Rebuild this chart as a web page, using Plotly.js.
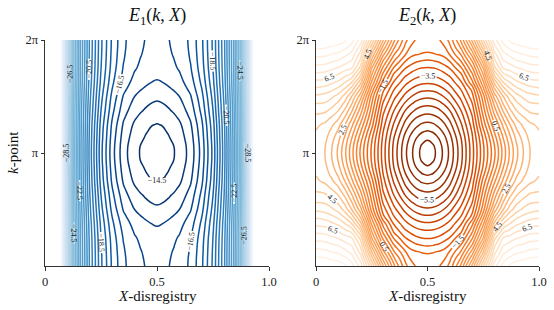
<!DOCTYPE html>
<html><head><meta charset="utf-8">
<script src="https://cdn.plot.ly/plotly-3.0.1.min.js"></script>
<style>html,body{margin:0;padding:0;background:#fff}#chart{width:554px;height:310px}</style>
</head><body><div id="chart"></div>
<script>
// ---- data: one quarter of each symmetric field ----
// X-disregistry columns 0..0.5 (field is mirrored about X = 0.5)
const xHalf = [0, 0.04, 0.07, 0.1, 0.13, 0.16, 0.2, 0.25, 0.3, 0.35, 0.4, 0.425, 0.45, 0.475, 0.5];
// k rows 0..pi in units of pi (field is mirrored about k = pi)
const kHalf = [0, 0.0625, 0.125, 0.1875, 0.25, 0.3125, 0.375, 0.4375, 0.5, 0.5625, 0.625, 0.6875, 0.75, 0.8125, 0.875, 0.9375, 1];

// E1(k, X): rows follow kHalf, columns follow xHalf
const e1Quarter = [
  [-70, -45, -33, -27.8, -24.4, -22.4, -20.4, -18.6, -17.4, -16.6, -16.2, -16.08, -15.98, -15.89, -15.85],
  [-70, -45, -33, -27.8, -24.4, -22.4, -20.39, -18.59, -17.39, -16.59, -16.18, -16.06, -15.96, -15.87, -15.83],
  [-70, -45, -33, -27.8, -24.39, -22.39, -20.38, -18.57, -17.36, -16.56, -16.15, -16.03, -15.93, -15.84, -15.8],
  [-70, -45, -33, -27.79, -24.39, -22.38, -20.36, -18.54, -17.33, -16.52, -16.11, -15.98, -15.88, -15.79, -15.75],
  [-70, -45, -33, -27.79, -24.38, -22.37, -20.34, -18.51, -17.28, -16.46, -16.05, -15.92, -15.82, -15.73, -15.69],
  [-70, -45, -33, -27.78, -24.37, -22.34, -20.3, -18.44, -17.2, -16.37, -15.94, -15.82, -15.71, -15.62, -15.58],
  [-70, -45, -32.99, -27.78, -24.35, -22.32, -20.26, -18.37, -17.11, -16.26, -15.83, -15.7, -15.59, -15.5, -15.45],
  [-70, -45, -32.99, -27.77, -24.33, -22.28, -20.19, -18.27, -16.99, -16.12, -15.67, -15.53, -15.42, -15.32, -15.28],
  [-70, -45, -32.99, -27.75, -24.31, -22.24, -20.13, -18.17, -16.85, -15.96, -15.5, -15.35, -15.24, -15.14, -15.1],
  [-70, -45, -32.98, -27.75, -24.29, -22.21, -20.07, -18.08, -16.74, -15.83, -15.35, -15.2, -15.08, -14.99, -14.94],
  [-70, -45, -32.98, -27.74, -24.27, -22.18, -20.02, -18.0, -16.64, -15.71, -15.21, -15.06, -14.94, -14.84, -14.8],
  [-70, -45, -32.98, -27.73, -24.25, -22.14, -19.96, -17.9, -16.52, -15.57, -15.06, -14.9, -14.78, -14.68, -14.64],
  [-70, -45, -32.98, -27.72, -24.23, -22.11, -19.9, -17.81, -16.4, -15.44, -14.91, -14.75, -14.63, -14.52, -14.48],
  [-70, -45, -32.97, -27.71, -24.22, -22.09, -19.87, -17.75, -16.33, -15.35, -14.82, -14.66, -14.53, -14.43, -14.38],
  [-70, -45, -32.97, -27.71, -24.21, -22.07, -19.84, -17.71, -16.27, -15.28, -14.74, -14.58, -14.45, -14.34, -14.3],
  [-70, -45, -32.97, -27.7, -24.2, -22.05, -19.81, -17.66, -16.22, -15.22, -14.67, -14.5, -14.37, -14.27, -14.22],
  [-70, -45, -32.97, -27.7, -24.2, -22.05, -19.8, -17.65, -16.2, -15.2, -14.65, -14.48, -14.35, -14.24, -14.2]
];
// E2(k, X): rows follow kHalf, columns follow xHalf
const e2Quarter = [
  [9.0, 9.0, 8.9, 8.8, 8.6, 8.2, 7.3, 5.0, 2.6, 0.6, -0.85, -1.25, -1.56, -1.7, -1.75],
  [8.62, 8.57, 8.45, 8.35, 8.15, 7.8, 6.8, 4.25, 1.9, 0.1, -1.1, -1.55, -1.72, -1.8, -1.84],
  [8.2, 8.13, 8.0, 7.9, 7.65, 7.35, 6.3, 3.5, 1.2, -0.45, -1.45, -1.84, -1.96, -2.03, -2.06],
  [7.75, 7.7, 7.55, 7.45, 7.2, 6.95, 5.85, 2.75, 0.5, -1.0, -1.98, -2.24, -2.44, -2.54, -2.58],
  [7.3, 7.25, 7.1, 6.95, 6.7, 6.5, 5.3, 2.0, -0.1, -1.6, -2.48, -2.73, -2.92, -3.02, -3.05],
  [6.82, 6.77, 6.6, 6.42, 6.1, 5.8, 4.5, 1.45, -0.65, -2.16, -2.93, -3.17, -3.34, -3.44, -3.48],
  [6.35, 6.28, 6.1, 5.88, 5.5, 5.0, 3.65, 0.9, -1.15, -2.58, -3.34, -3.59, -3.78, -3.89, -3.93],
  [5.88, 5.78, 5.6, 5.35, 4.9, 4.25, 2.9, 0.33, -1.85, -2.99, -3.74, -4.03, -4.24, -4.37, -4.41],
  [5.4, 5.3, 5.1, 4.8, 4.3, 3.5, 2.2, -0.2, -2.21, -3.34, -4.16, -4.47, -4.71, -4.85, -4.9],
  [5.0, 4.95, 4.72, 4.4, 3.85, 3.05, 1.65, -0.48, -2.53, -3.68, -4.58, -4.93, -5.17, -5.32, -5.36],
  [4.65, 4.6, 4.35, 4.0, 3.4, 2.58, 1.25, -0.75, -2.82, -4.01, -5.0, -5.34, -5.6, -5.75, -5.8],
  [4.35, 4.22, 3.95, 3.6, 2.95, 2.1, 0.82, -1.03, -3.07, -4.31, -5.36, -5.72, -6.0, -6.16, -6.22],
  [4.1, 3.9, 3.6, 3.2, 2.5, 1.65, 0.4, -1.3, -3.27, -4.59, -5.67, -6.08, -6.38, -6.58, -6.65],
  [3.97, 3.75, 3.37, 2.9, 2.15, 1.3, 0.03, -1.65, -3.47, -4.83, -5.96, -6.4, -6.72, -6.97, -7.06],
  [3.88, 3.63, 3.18, 2.64, 1.87, 0.99, -0.3, -1.93, -3.6, -5.04, -6.2, -6.66, -7.03, -7.28, -7.44],
  [3.82, 3.53, 3.05, 2.46, 1.67, 0.77, -0.52, -2.07, -3.69, -5.15, -6.34, -6.82, -7.21, -7.57, -7.75],
  [3.8, 3.5, 3.0, 2.4, 1.6, 0.7, -0.6, -2.1, -3.71, -5.18, -6.39, -6.87, -7.27, -7.67, -7.85]
];

// contour levels and which of them carry labels
const e1Levels = {start: -32.5, end: -14.5, step: 0.5};
const e2Levels = {start: -7.5, end: 9.0, step: 0.5};
const e1Labeled = [-28.5, -26.5, -24.5, -22.5, -20.5, -18.5, -16.5, -14.5];
const e2Labeled = [-7.5, -5.5, -3.5, -1.5, 0.5, 2.5, 4.5, 6.5];

const xTickVals = [0, 0.5, 1], xTickText = ['0', '0.5', '1.0'];
const kTickVals = [Math.PI, 2 * Math.PI], kTickText = ['π', '2π'];

const Blues = ['#f7fbff','#deebf7','#c6dbef','#9ecae1','#6baed6','#4292c6','#2171b5','#08519c','#08306b'];
const Oranges = ['#fff5eb','#fee6ce','#fdd0a2','#fdae6b','#fd8d3c','#f16913','#d94801','#a63603','#7f2704'];

// ---- full grids by mirroring the quarters ----
const xs = xHalf.concat(xHalf.slice(0, -1).reverse().map(v => 1 - v));
const ks = kHalf.concat(kHalf.slice(0, -1).reverse().map(v => 2 - v)).map(v => v * Math.PI);
function fullGrid(q) {
  const fr = r => r.concat(r.slice(0, -1).reverse());
  return q.map(fr).concat(q.slice(0, -1).reverse().map(fr));
}
const z1 = fullGrid(e1Quarter), z2 = fullGrid(e2Quarter);

function hex2rgb(h) { return [1, 3, 5].map(i => parseInt(h.slice(i, i + 2), 16)); }
function cmap(pal, t) {
  t = Math.max(0, Math.min(1, t));
  const p = t * (pal.length - 1), i = Math.min(Math.floor(p), pal.length - 2), f = p - i;
  const a = hex2rgb(pal[i]), b = hex2rgb(pal[i + 1]);
  return 'rgb(' + a.map((v, j) => Math.round(v + (b[j] - v) * f)).join(',') + ')';
}

const FONT = 'Liberation Serif, DejaVu Serif, serif';
const LW = 1.5, SMOOTH = 1.3;
const traces = [];
function addField(z, lv, labeled, pal, invert, xa, ya) {
  const colorOf = L => cmap(pal, invert ? 1 - (L - lv.start) / (lv.end - lv.start) : (L - lv.start) / (lv.end - lv.start));
  const n = Math.round((lv.end - lv.start) / lv.step);
  for (let i = 0; i <= n; i++) {
    const L = +(lv.start + i * lv.step).toFixed(3);
    if (labeled.some(v => Math.abs(v - L) < 1e-6)) continue;
    traces.push({
      type: 'contour', x: xs, y: ks, z: z, xaxis: xa, yaxis: ya,
      autocontour: false, showscale: false, hoverinfo: 'skip',
      contours: {start: L, end: L, size: 1, coloring: 'none', showlabels: false},
      line: {color: colorOf(L), width: LW, smoothing: SMOOTH}
    });
  }
  // labeled levels in one trace so labels avoid each other
  const lo = Math.min(...labeled), hi = Math.max(...labeled), sz = labeled[1] - labeled[0];
  traces.push({
    type: 'contour', x: xs, y: ks, z: z, xaxis: xa, yaxis: ya,
    autocontour: false, showscale: false, hoverinfo: 'skip',
    colorscale: labeled.map(L => [(L - lo) / (hi - lo), colorOf(L)]),
    contours: {start: lo, end: hi, size: sz, coloring: 'lines', showlabels: true,
               labelfont: {family: FONT, size: 8, color: '#222'}, labelformat: '.1f'},
    line: {width: LW, smoothing: SMOOTH}
  });
}
addField(z1, e1Levels, e1Labeled, Blues, false, 'x', 'y');
addField(z2, e2Levels, e2Labeled, Oranges, true, 'x2', 'y2');

const axBase = {showgrid: false, zeroline: false, showline: true, linecolor: '#333', linewidth: 1,
  ticks: 'outside', ticklen: 3.5, tickcolor: '#333', tickfont: {family: FONT, size: 12.5, color: '#222'}};
const yd = [44 / 310, 270 / 310];
const ann = (text, xpx, ypx, size, extra) => Object.assign({text, x: xpx / 554, y: 1 - ypx / 310,
  xref: 'paper', yref: 'paper', xanchor: 'center', yanchor: 'middle', showarrow: false,
  font: {family: FONT, size, color: '#111'}}, extra || {});
const layout = {
  width: 554, height: 310, margin: {l: 0, r: 0, t: 0, b: 0},
  paper_bgcolor: '#fff', plot_bgcolor: '#fff', showlegend: false,
  xaxis: Object.assign({}, axBase, {domain: [45 / 554, 269 / 554], range: [0, 1], tickvals: xTickVals, ticktext: xTickText}),
  yaxis: Object.assign({}, axBase, {domain: yd, range: [0, 2 * Math.PI], tickvals: kTickVals, ticktext: kTickText}),
  xaxis2: Object.assign({}, axBase, {domain: [316 / 554, 539 / 554], range: [0, 1], tickvals: xTickVals, ticktext: xTickText, anchor: 'y2'}),
  yaxis2: Object.assign({}, axBase, {domain: yd, range: [0, 2 * Math.PI], tickvals: kTickVals, ticktext: kTickText, anchor: 'x2'}),
  annotations: [
    ann('<i>E</i><sub>1</sub>(<i>k</i>, <i>X</i>)', 157, 16, 18),
    ann('<i>E</i><sub>2</sub>(<i>k</i>, <i>X</i>)', 427, 16, 18),
    ann('<i>X</i>-disregistry', 157, 296, 15),
    ann('<i>X</i>-disregistry', 427, 296, 15),
    ann('<i>k</i>-point', 13, 153, 15, {textangle: -90})
  ]
};
Plotly.newPlot('chart', traces, layout, {staticPlot: true, displayModeBar: false});
</script></body></html>
